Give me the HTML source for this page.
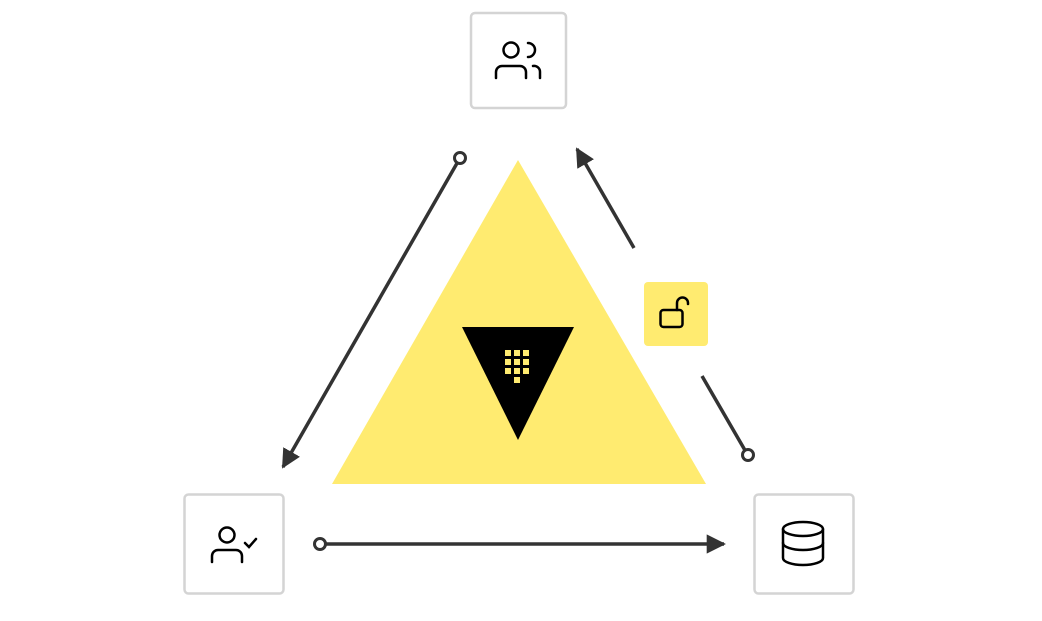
<!DOCTYPE html>
<html><head><style>html,body{margin:0;padding:0;background:#fff}</style></head>
<body>
<svg width="1042" height="616" viewBox="0 0 1042 616" xmlns="http://www.w3.org/2000/svg">
<defs>
<marker id="ah" viewBox="0 0 10 10" refX="9" refY="5" markerWidth="5.5" markerHeight="5.5" markerUnits="strokeWidth" orient="auto"><path d="M0,0 L10,5 L0,10 z" fill="#333"/></marker>
</defs>
<polygon points="518,160 332,484 706,484" fill="#ffeb70"/>
<polygon points="462,327 574,327 518,440" fill="#000"/>
<g fill="#ffeb70">
<rect x="505" y="350" width="6" height="6"/><rect x="514" y="350" width="6" height="6"/><rect x="523" y="350" width="6" height="6"/>
<rect x="505" y="359" width="6" height="6"/><rect x="514" y="359" width="6" height="6"/><rect x="523" y="359" width="6" height="6"/>
<rect x="505" y="368" width="6" height="6"/><rect x="514" y="368" width="6" height="6"/><rect x="523" y="368" width="6" height="6"/>
<rect x="514" y="377" width="6" height="6"/>
</g>
<g fill="#fff" stroke="#d4d4d4" stroke-width="2.5">
<rect x="471" y="13" width="95" height="95" rx="4"/>
<rect x="184.5" y="494.5" width="99" height="99" rx="4"/>
<rect x="754.5" y="494.5" width="99" height="99" rx="4"/>
</g>
<rect x="644" y="282" width="64" height="64" rx="4" fill="#ffeb70"/>
<g fill="none" stroke="#000" stroke-width="2.5" stroke-linecap="round">
<rect x="660.5" y="310" width="22" height="17" rx="3"/>
<path d="M677,310 V303 a5.5,5.5 0 0 1 11,0 V304"/>
<circle cx="511" cy="50" r="7.5"/>
<path d="M496,78 V72 a6,6 0 0 1 6,-6 h18 a6,6 0 0 1 6,6 V78"/>
<path d="M528,43 a7,7 0 0 1 0,14"/>
<path d="M533,66 a6,6 0 0 1 7,6 V78"/>
<circle cx="227" cy="535" r="7.5"/>
<path d="M212,562 V556 a6,6 0 0 1 6,-6 h18 a6,6 0 0 1 6,6 V562"/>
<path d="M245,543 l4,4 l7,-8"/>
<ellipse cx="803" cy="529" rx="20" ry="7"/>
<path d="M783,529 V558 a20,7 0 0 0 40,0 V529"/>
<path d="M783,543 a20,7 0 0 0 40,0"/>
</g>
<g stroke="#333" stroke-width="3.5" fill="none">
<line x1="460" y1="158" x2="283" y2="467" marker-end="url(#ah)"/>
<line x1="634" y1="248" x2="577" y2="149" marker-end="url(#ah)"/>
<line x1="702" y1="376" x2="746" y2="452"/>
<line x1="320" y1="544" x2="724" y2="544" marker-end="url(#ah)"/>
</g>
<g fill="#fff" stroke="#333" stroke-width="3">
<circle cx="460" cy="158" r="5.5"/>
<circle cx="748" cy="455" r="5.5"/>
<circle cx="320" cy="544" r="5.5"/>
</g>
</svg>
</body></html>
